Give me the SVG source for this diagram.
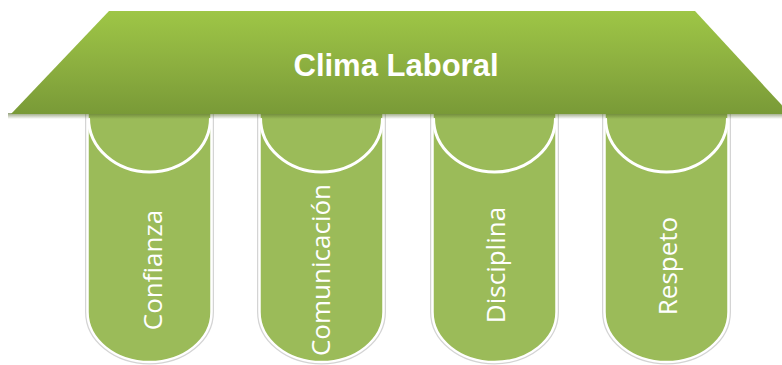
<svg xmlns="http://www.w3.org/2000/svg" width="782" height="365" viewBox="0 0 782 365">
<defs>
<linearGradient id="roofG" x1="0" y1="0" x2="0" y2="1">
<stop offset="0" stop-color="#9ec646"/>
<stop offset="0.5" stop-color="#8db040"/>
<stop offset="1" stop-color="#799a37"/>
</linearGradient>
<linearGradient id="shadG" x1="0" y1="0" x2="0" y2="1">
<stop offset="0" stop-color="#4d6224" stop-opacity="0.6"/>
<stop offset="1" stop-color="#4d6224" stop-opacity="0"/>
</linearGradient>
<path id="cyl" d="M-62,105 L-62,312 A62,50 0 0 0 62,312 L62,105 Z"/>
</defs>
<style>
.body{fill:#9bbb59;stroke:#ffffff;stroke-width:2.5}
.halo{fill:none;stroke:#d4d4d4;stroke-width:5}
.top{fill:none;stroke:#ffffff;stroke-width:3}
.lbl{font-family:"Open Sans","Noto Sans",sans-serif;font-size:26px;fill:#ffffff;text-anchor:middle}
.title{font-family:"Liberation Sans",Arial,sans-serif;font-size:31px;font-weight:bold;fill:#ffffff;text-anchor:middle}
</style>
<rect width="782" height="365" fill="#ffffff"/>
<g id="pillar-confianza" transform="translate(149.5,0)">
<use href="#cyl" class="halo"/>
<use href="#cyl" class="body"/>
<path class="top" d="M-61,118 A61,54 0 0 0 61,118"/>
<text class="lbl" transform="translate(12,270) rotate(-90)">Confianza</text>
</g>
<g id="pillar-comunicacion" transform="translate(321.5,0)">
<use href="#cyl" class="halo"/>
<use href="#cyl" class="body"/>
<path class="top" d="M-61,118 A61,54 0 0 0 61,118"/>
<text class="lbl" transform="translate(8.5,270) rotate(-90)">Comunicación</text>
</g>
<g id="pillar-disciplina" transform="translate(494.5,0)">
<use href="#cyl" class="halo"/>
<use href="#cyl" class="body"/>
<path class="top" d="M-61,118 A61,54 0 0 0 61,118"/>
<text class="lbl" transform="translate(10.5,265) rotate(-90)">Disciplina</text>
</g>
<g id="pillar-respeto" transform="translate(666.5,0)">
<use href="#cyl" class="halo"/>
<use href="#cyl" class="body"/>
<path class="top" d="M-61,118 A61,54 0 0 0 61,118"/>
<text class="lbl" transform="translate(10.5,266) rotate(-90)">Respeto</text>
</g>
<g id="roof">
<rect x="8" y="113" width="774" height="6" fill="url(#shadG)"/>
<polygon points="109,11 695,11 790,114 11,114" fill="url(#roofG)"/>
<text class="title" x="396" y="76">Clima Laboral</text>
</g>
<g id="connectors"/>
</svg>
